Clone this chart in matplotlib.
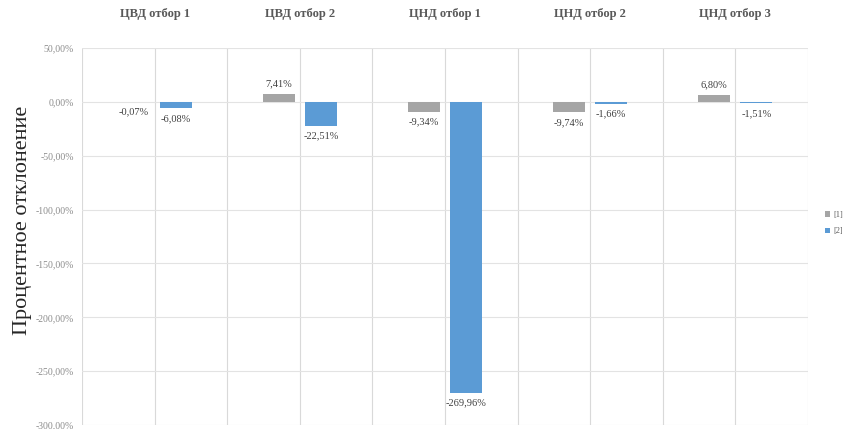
import matplotlib
matplotlib.use("Agg")
import matplotlib.pyplot as plt
from matplotlib.ticker import FuncFormatter, MultipleLocator
import numpy as np

categories = ["ЦВД отбор 1", "ЦВД отбор 2", "ЦНД отбор 1", "ЦНД отбор 2", "ЦНД отбор 3"]
series_1 = [-0.07, 7.41, -9.34, -9.74, 6.80]
series_2 = [-6.08, -22.51, -269.96, -1.66, -1.51]
series_names = ["[1]", "[2]"]

plt.rcParams["font.family"] = ["Liberation Serif", "DejaVu Serif"]

fig = plt.figure(figsize=(8.45, 4.29), dpi=100)
ax = fig.add_axes([82 / 845, 1 - 425 / 429, 726 / 845, 377 / 429])

x = np.arange(len(categories))
width = 0.22
offset = 0.145
b1 = ax.bar(x - offset, series_1, width, color="#a5a5a5", label=series_names[0], zorder=3)
b2 = ax.bar(x + offset, series_2, width, color="#5b9bd5", label=series_names[1], zorder=3)

def fmt_pct(v):
    return f"{v:.2f}".replace(".", ",") + "%"

for bars, vals in ((b1, series_1), (b2, series_2)):
    ax.bar_label(bars, labels=[fmt_pct(v) for v in vals], padding=4,
                 fontsize=7.5, color="#404040")

ax.set_xlim(-0.5, len(categories) - 0.5)
ax.set_ylim(-300, 50)
ax.yaxis.set_major_locator(MultipleLocator(50))
ax.yaxis.set_major_formatter(FuncFormatter(lambda v, p: fmt_pct(v)))
ax.tick_params(axis="y", length=0, labelsize=7, labelcolor="#8c8c8c", pad=6)

# vertical grid at panel edges and panel centres
ax.set_xticks(np.arange(-0.5, len(categories), 0.5))
ax.tick_params(axis="x", length=0, labelbottom=False)

# category titles along the top
top = ax.secondary_xaxis("top")
top.set_xticks(x)
top.set_xticklabels(categories, fontweight="bold", fontsize=9, color="#595959")
top.tick_params(length=0, pad=20)
top.spines["top"].set_visible(False)

ax.grid(True, axis="y", color="#e3e3e3", linewidth=0.8, zorder=0)
ax.grid(True, axis="x", color="#d9d9d9", linewidth=0.8, zorder=0)
for s in ax.spines.values():
    s.set_visible(False)

fig.text(23 / 845, 0.487, "Процентное отклонение", rotation=90, va="center", ha="center",
         fontsize=16, color="#262626")

fig.legend(handles=[b1, b2], labels=series_names, loc="center left",
           bbox_to_anchor=(0.968, 0.48), frameon=False, fontsize=6,
           handlelength=0.6, handleheight=0.6, handletextpad=0.3, labelspacing=1.0,
           labelcolor="#595959")

fig.savefig("out.png", dpi=100)
